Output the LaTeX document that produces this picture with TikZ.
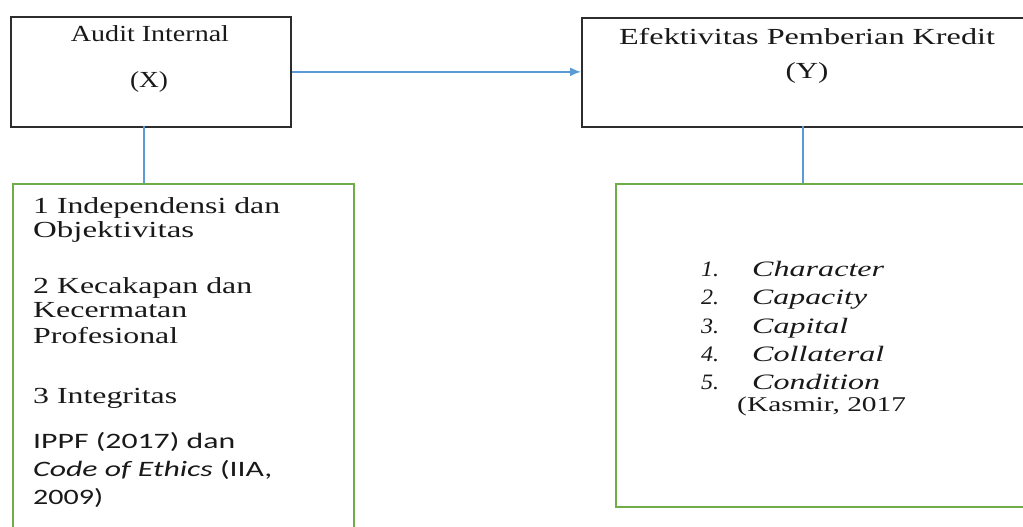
\documentclass[tikz,border=0pt]{standalone}
\usepackage{fontspec}
\setmainfont{Liberation Serif}
\newfontfamily\calib{Carlito}
\usetikzlibrary{arrows.meta,calc}
\definecolor{bluecol}{RGB}{91,155,213}
\definecolor{greencol}{RGB}{112,173,71}
\definecolor{boxcol}{RGB}{45,45,45}
\definecolor{txtcol}{RGB}{25,25,25}
\newcommand\fitw[2]{\resizebox{#1}{\height}{#2}}
\begin{document}
\begin{tikzpicture}[x=1pt,y=-1pt,
  blk/.style={draw=boxcol, line width=1.7pt, inner sep=0pt, anchor=north west},
  grn/.style={draw=greencol, line width=1.6pt, inner sep=0pt, anchor=north west},
  conn/.style={draw=bluecol, line width=1.6pt},
  ctext/.style={anchor=base, inner sep=0pt, font=\fontsize{23}{26}\selectfont, text=txtcol},
  ltext/.style={anchor=base west, inner sep=0pt, font=\fontsize{23}{26}\selectfont, text=txtcol},
  stext/.style={anchor=base west, inner sep=0pt, font=\calib\fontsize{22}{24}\selectfont, text=txtcol},
  itext/.style={anchor=base west, inner sep=0pt, font=\fontsize{22}{24}\selectfont\itshape, text=txtcol}]
\useasboundingbox (0,0) rectangle (1023,527);
% boxes
\node[blk, minimum width=280pt, minimum height=110pt] (bx) at (10,16) {};
\node[blk, minimum width=470pt, minimum height=109pt] (by) at (581,17) {};
\node[grn, minimum width=341pt, minimum height=360pt] (gl) at (12,183) {};
\node[grn, minimum width=430pt, minimum height=323pt] (gr) at (615,183) {};
% box texts
\node[ctext] (tx1) at (150,42) {\fitw{158pt}{Audit Internal}};
\node[ctext] (tx2) at (149,88) {\fitw{38pt}{(X)}};
\node[ctext] (ty1) at (807,45) {\fitw{376pt}{Efektivitas Pemberian Kredit}};
\node[ctext] (ty2) at (807,78) {\fitw{43pt}{(Y)}};
% left list
\node[ltext] (l1) at (33,213) {\fitw{247pt}{1 Independensi dan}};
\node[ltext] (l2) at (33,237) {\fitw{161pt}{Objektivitas}};
\node[ltext] (l3) at (33,293) {\fitw{219pt}{2 Kecakapan dan}};
\node[ltext] (l4) at (33,317) {\fitw{154pt}{Kecermatan}};
\node[ltext] (l5) at (33,343) {\fitw{145pt}{Profesional}};
\node[ltext] (l6) at (33,403) {\fitw{144pt}{3 Integritas}};
\node[stext] (l7) at (33,448) {\fitw{202pt}{IPPF (2017) dan}};
\node[stext] (l8) at (33,476) {\fitw{239pt}{\textit{Code of Ethics} (IIA,}};
\node[stext] (l9) at (33,504) {\fitw{70pt}{2009)}};
% right list
\node[itext] (n1) at (701,276) {\fitw{18pt}{1.}};
\node[itext] (r1) at (752,276) {\fitw{132pt}{Character}};
\node[itext] (n2) at (701,304) {\fitw{18pt}{2.}};
\node[itext] (r2) at (752,304) {\fitw{115pt}{Capacity}};
\node[itext] (n3) at (701,333) {\fitw{18pt}{3.}};
\node[itext] (r3) at (752,333) {\fitw{96pt}{Capital}};
\node[itext] (n4) at (701,361) {\fitw{18pt}{4.}};
\node[itext] (r4) at (752,361) {\fitw{132pt}{Collateral}};
\node[itext] (n5) at (701,389) {\fitw{18pt}{5.}};
\node[itext] (r5) at (752,389) {\fitw{128pt}{Condition}};
\node[ltext, font=\fontsize{21}{24}\selectfont] (r6) at (737,411) {\fitw{169pt}{(Kasmir, 2017}};
% connectors
\coordinate (cl) at (144,126);
\coordinate (cr) at (803,126);
\draw[conn, -{Latex[length=11pt,width=9pt]}] (bx.east) -- (bx.east -| by.west);
\draw[conn] (cl) -- (cl |- gl.north);
\draw[conn] (cr) -- (cr |- gr.north);
\end{tikzpicture}
\end{document}
